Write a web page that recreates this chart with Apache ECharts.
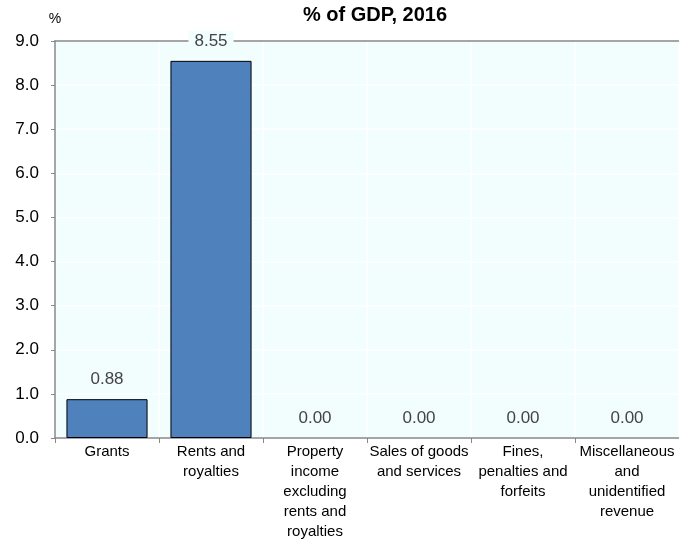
<!DOCTYPE html>
<html>
<head>
<meta charset="utf-8">
<script src="https://cdn.jsdelivr.net/npm/echarts@6/dist/echarts.min.js"></script>
<style>
  html, body { margin: 0; padding: 0; background: #fff; }
  #chart { width: 679px; height: 546px; }
</style>
</head>
<body>
<div id="chart"></div>
<script>
// data
var categories = ["Grants", "Rents and\nroyalties", "Property\nincome\nexcluding\nrents and\nroyalties",
  "Sales of goods\nand services", "Fines,\npenalties and\nforfeits", "Miscellaneous\nand\nunidentified\nrevenue"];
var values = [0.88, 8.55, 0.00, 0.00, 0.00, 0.00];
var yTicks = [0, 1, 2, 3, 4, 5, 6, 7, 8, 9];

var plotBg = "#f2fdfd";
var font = "Liberation Sans, Arial, sans-serif";

// zero-height bars get no outline
var barData = values.map(function (v) {
  return { value: v, itemStyle: { borderWidth: v > 0 ? 1 : 0 } };
});

var chart = echarts.init(document.getElementById("chart"));
var option = {
  animation: false,
  title: {
    text: "% of GDP, 2016",
    left: 370,
    textAlign: "center",
    top: 0,
    textStyle: { fontFamily: font, fontSize: 20, fontWeight: "bold", color: "#000" }
  },
  grid: {
    left: 55, right: 0, top: 41, bottom: 108,
    show: true, backgroundColor: plotBg, borderWidth: 0
  },
  xAxis: [{
    type: "category",
    data: categories,
    axisLine: { lineStyle: { color: "#888", width: 1.5 } },
    axisTick: { show: true, length: 5, lineStyle: { color: "#888" } },
    axisLabel: { interval: 0, color: "#000", fontFamily: font, fontSize: 15, lineHeight: 20, margin: 4 },
    splitLine: { show: true, lineStyle: { color: "#fff", width: 1.5 } }
  }, {
    type: "category",
    position: "top",
    data: categories,
    axisLine: { show: true, lineStyle: { color: "#888", width: 1.5 } },
    axisTick: { show: false },
    axisLabel: { show: false }
  }],
  yAxis: {
    type: "value",
    min: 0, max: 9, interval: 1,
    name: "%",
    nameLocation: "end",
    nameGap: 15,
    nameTextStyle: { color: "#000", fontFamily: font, fontSize: 14, align: "center" },
    axisLine: { show: true, lineStyle: { color: "#888", width: 1.5 } },
    axisTick: { show: true, length: 4, lineStyle: { color: "#888" } },
    axisLabel: {
      color: "#000", fontFamily: font, fontSize: 17, margin: 16,
      formatter: function (v) { return yTicks.indexOf(v) >= 0 ? v.toFixed(1) : ""; }
    },
    splitLine: { show: true, lineStyle: { color: "#fff", width: 1.5 } }
  },
  series: [{
    type: "bar",
    data: barData,
    barWidth: "78%",
    itemStyle: { color: "#4f81bd", borderColor: "#000", borderWidth: 1 },
    label: {
      show: true,
      position: "top",
      distance: 9,
      formatter: function (p) { return p.value.toFixed(2); },
      color: "#444",
      fontFamily: font,
      fontSize: 17,
      backgroundColor: plotBg,
      padding: [2, 6]
    }
  }]
};
chart.setOption(option);
</script>
</body>
</html>
